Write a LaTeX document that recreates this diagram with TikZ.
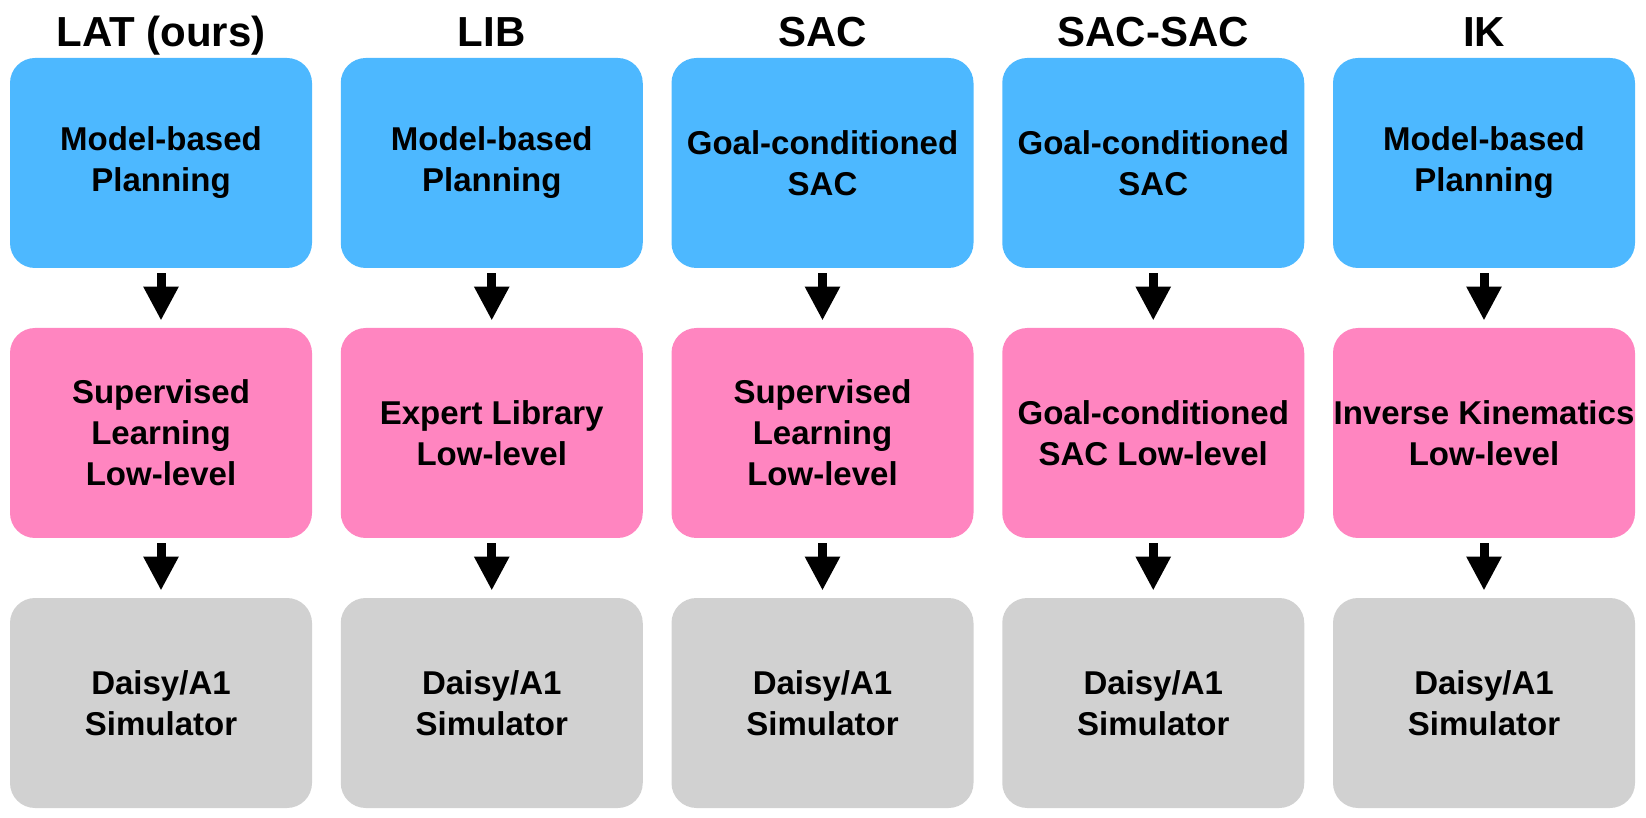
\documentclass[tikz,border=0pt]{standalone}
\usepackage{fontspec}
\setmainfont{Liberation Sans}
\usetikzlibrary{arrows.meta}
\definecolor{planblue}{RGB}{77,184,255}
\definecolor{lowpink}{RGB}{255,133,192}
\definecolor{simgray}{RGB}{209,209,209}
\begin{document}
\begin{tikzpicture}[x=0.5pt, y=-0.5pt,
    box/.style={rounded corners=12.5pt, minimum width=151pt, minimum height=105pt,
      inner sep=0pt, align=center, font=\fontsize{16.5pt}{20.5pt}\selectfont\bfseries},
    plan/.style={box, fill=planblue},
    low/.style={box, fill=lowpink},
    sim/.style={box, fill=simgray},
    title/.style={anchor=base, inner sep=0pt, font=\fontsize{21pt}{25pt}\selectfont\bfseries},
    flow/.style={line width=4.5pt, -{Triangle[width=16.5pt, length=17pt]},
      shorten <=2.5pt, shorten >=3.5pt}]
    \useasboundingbox (0,0) rectangle (1646,818);
    % one column per method: title, planner, low-level, simulator
    \foreach \i/\name/\hi/\lo in {
        0/{LAT (ours)}/{Model-based\\Planning}/{Supervised\\Learning\\Low-level},
        1/{LIB}/{Model-based\\Planning}/{Expert Library\\Low-level},
        2/{SAC}/{Goal-conditioned\\SAC}/{Supervised\\Learning\\Low-level},
        3/{SAC-SAC}/{Goal-conditioned\\SAC}/{Goal-conditioned\\SAC Low-level},
        4/{IK}/{Model-based\\Planning}/{Inverse Kinematics\\Low-level}} {
      \node[title] (name\i) at (161+330.75*\i, 47) {\name};
      \node[plan] (plan\i) at (161+330.75*\i, 163) {\hi};
      \node[low] (low\i) at (161+330.75*\i, 433) {\lo};
      \node[sim] (sim\i) at (161+330.75*\i, 703) {Daisy/A1\\Simulator};
      \draw[flow] (plan\i) -- (low\i);
      \draw[flow] (low\i) -- (sim\i);
    }
\end{tikzpicture}
\end{document}
